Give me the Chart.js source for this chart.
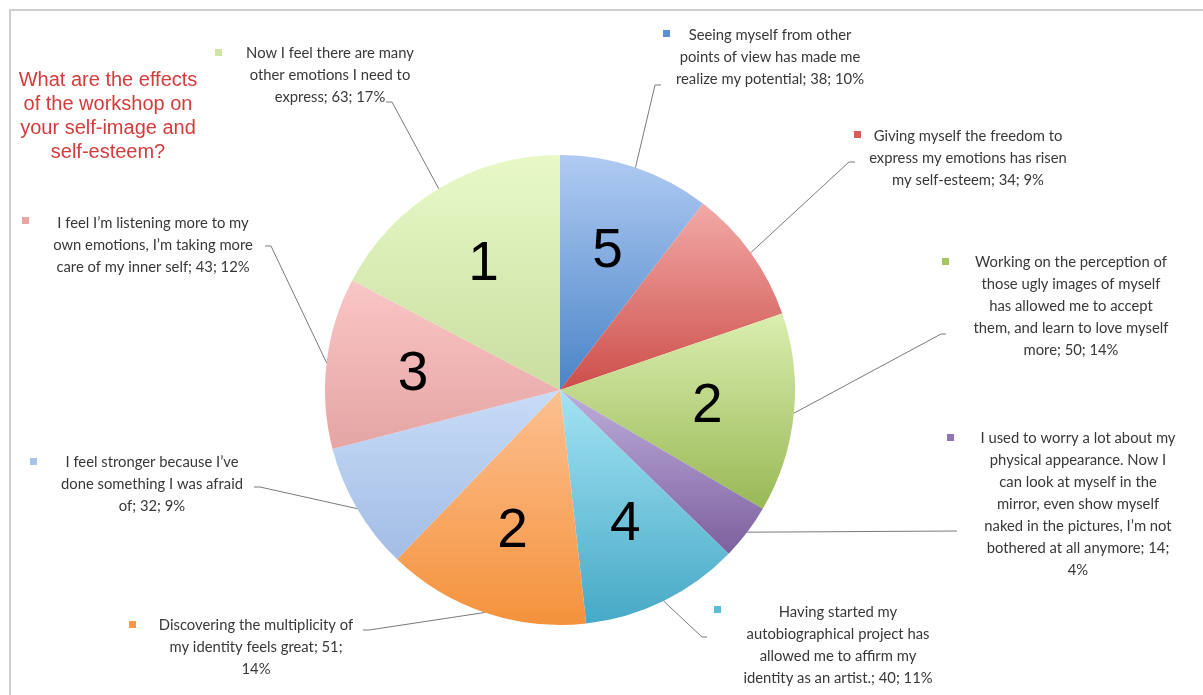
<!DOCTYPE html>
<html>
<head>
<meta charset="utf-8">
<script src="https://cdn.jsdelivr.net/npm/chart.js@4/dist/chart.umd.min.js"></script>
<style>
  html, body { margin: 0; padding: 0; background: #fff; }
  canvas { display: block; }
</style>
</head>
<body>
<canvas id="pie" width="1203" height="695"></canvas>
<script>
// slices, clockwise from 12 o'clock
const categories = [
  'Seeing myself from other points of view has made me realize my potential',
  'Giving myself the freedom to express my emotions has risen my self-esteem',
  'Working on the perception of those ugly images of myself has allowed me to accept them, and learn to love myself more',
  'I used to worry a lot about my physical appearance. Now I can look at myself in the mirror, even show myself naked in the pictures, I\u2019m not bothered at all anymore',
  'Having started my autobiographical project has allowed me to affirm my identity as an artist.',
  'Discovering the multiplicity of my identity feels great',
  'I feel stronger because I\u2019ve done something I was afraid of',
  'I feel I\u2019m listening more to my own emotions, I\u2019m taking more care of my inner self',
  'Now I feel there are many other emotions I need to express'
];
const values = [38, 34, 50, 14, 40, 51, 32, 43, 63];
const percents = [10, 9, 14, 4, 11, 14, 9, 12, 17];
const sliceTags = ['5', '', '2', '', '4', '2', '', '3', '1'];

// label text as wrapped on the picture
const labelLines = [
  ['Seeing myself from other', 'points of view has made me', 'realize my potential; 38; 10%'],
  ['Giving myself the freedom to', 'express my emotions has risen', 'my self-esteem; 34; 9%'],
  ['Working on the perception of', 'those ugly images of myself', 'has allowed me to accept', 'them, and learn to love myself', 'more; 50; 14%'],
  ['I used to worry a lot about my', 'physical appearance. Now I', 'can look at myself in the', 'mirror, even show myself', 'naked in the pictures, I\u2019m not', 'bothered at all anymore; 14;', '4%'],
  ['Having started my', 'autobiographical project has', 'allowed me to affirm my', 'identity as an artist.; 40; 11%'],
  ['Discovering the multiplicity of', 'my identity feels great; 51;', '14%'],
  ['I feel stronger because I\u2019ve', 'done something I was afraid', 'of; 32; 9%'],
  ['I feel I\u2019m listening more to my', 'own emotions, I\u2019m taking more', 'care of my inner self; 43; 12%'],
  ['Now I feel there are many', 'other emotions I need to', 'express; 63; 17%']
];
const titleLines = ['What are the effects', 'of the workshop on', 'your self-image and', 'self-esteem?'];

// [top, bottom] gradient shades per slice
const shades = [
  ['#b0cbf3', '#4a84c7'],
  ['#f2aaa7', '#cd4e4a'],
  ['#dbeeb0', '#98b955'],
  ['#bdaedb', '#7d5f9e'],
  ['#a3e3f4', '#46a9c6'],
  ['#fdc091', '#f4923c'],
  ['#c8dcf7', '#a2bce5'],
  ['#fac6c6', '#e4a5a3'],
  ['#e8f9c7', '#c9dea0']
];
const markerColors = ['#5b8fd6', '#dc5b58', '#a6c561', '#8f74b6', '#5bbcd8', '#f7984a', '#a9c4ec', '#eba5a4', '#cfe6a5'];

// label placement: text centre x, first line y, marker, leader end, short tick end
const labelPos = [
  { cx: 770, y: 35, mx: 666, my: 33, ex: 655, ey: 85, tx: 661 },
  { cx: 968, y: 136, mx: 857, my: 134, ex: 849, ey: 162, tx: 855 },
  { cx: 1071, y: 262, mx: 945, my: 261, ex: 941, ey: 334, tx: 946 },
  { cx: 1078, y: 438, mx: 950, my: 437, ex: 957, ey: 531, tx: 957 },
  { cx: 838, y: 612, mx: 717, my: 609, ex: 702, ey: 637, tx: 707 },
  { cx: 256, y: 625, mx: 132, my: 624, ex: 369, ey: 630, tx: 363 },
  { cx: 152, y: 462, mx: 33, my: 461, ex: 260, ey: 487, tx: 254 },
  { cx: 153, y: 223, mx: 25, my: 220, ex: 271, ey: 246, tx: 265 },
  { cx: 330, y: 53, mx: 218, my: 52, ex: 392, ey: 102, tx: 386 }
];

const total = values.reduce((a, b) => a + b, 0);

function sliceFill(ctx) {
  const chart = ctx.chart;
  const area = chart.chartArea;
  const i = ctx.dataIndex;
  if (!area) return shades[i][1];
  const cx = (area.left + area.right) / 2;
  const cy = (area.top + area.bottom) / 2;
  const r = Math.min(area.width, area.height) / 2;
  const before = values.slice(0, i).reduce((a, b) => a + b, 0);
  const a0 = before / total * Math.PI * 2;
  const a1 = (before + values[i]) / total * Math.PI * 2;
  const ys = [cy, cy - r * Math.cos(a0), cy - r * Math.cos(a1)];
  if (a0 <= 0.0001 || a1 >= Math.PI * 2 - 0.0001) ys.push(cy - r);
  if (a0 <= Math.PI && a1 >= Math.PI) ys.push(cy + r);
  const g = chart.ctx.createLinearGradient(0, Math.min(...ys), 0, Math.max(...ys));
  g.addColorStop(0, shades[i][0]);
  g.addColorStop(1, shades[i][1]);
  return g;
}

const frame = {
  id: 'frame',
  beforeDraw(chart) {
    const c = chart.ctx;
    c.save();
    c.fillStyle = '#fff';
    c.fillRect(0, 0, chart.width, chart.height);
    c.strokeStyle = '#cfcfcf';
    c.lineWidth = 2;
    c.beginPath();
    c.moveTo(1203, 10);
    c.lineTo(10, 10);
    c.lineTo(10, 695);
    c.stroke();
    // title
    c.fillStyle = '#d43b3b';
    c.font = '20px "Liberation Sans", Arial, sans-serif';
    c.textAlign = 'center';
    c.textBaseline = 'middle';
    titleLines.forEach((t, k) => c.fillText(t, 108, 80 + k * 24));
    c.restore();
  }
};

const callouts = {
  id: 'callouts',
  afterDatasetsDraw(chart) {
    const c = chart.ctx;
    const arcs = chart.getDatasetMeta(0).data;
    c.save();
    arcs.forEach((arc, i) => {
      const mid = (arc.startAngle + arc.endAngle) / 2;
      const R = arc.outerRadius;
      // slice number
      if (sliceTags[i]) {
        c.fillStyle = '#000';
        c.font = '55px "Liberation Sans", Arial, sans-serif';
        c.textAlign = 'center';
        c.textBaseline = 'middle';
        c.fillText(sliceTags[i], arc.x + Math.cos(mid) * R * 0.63, arc.y + Math.sin(mid) * R * 0.63 + 2);
      }
      // leader line
      const p = labelPos[i];
      c.strokeStyle = '#7a7a7a';
      c.lineWidth = 1;
      c.beginPath();
      c.moveTo(arc.x + Math.cos(mid) * R, arc.y + Math.sin(mid) * R);
      c.lineTo(p.ex, p.ey);
      c.lineTo(p.tx, p.ey);
      c.stroke();
      // marker
      c.fillStyle = markerColors[i];
      c.fillRect(p.mx - 3, p.my - 3, 7, 7);
      // text
      c.fillStyle = '#383838';
      c.font = '14.8px Lato, "Open Sans", sans-serif';
      c.textAlign = 'center';
      c.textBaseline = 'middle';
      labelLines[i].forEach((t, k) => c.fillText(t, p.cx, p.y + k * 22));
    });
    c.restore();
  }
};

new Chart(document.getElementById('pie'), {
  type: 'pie',
  data: {
    labels: categories,
    datasets: [{
      data: values,
      backgroundColor: sliceFill,
      borderWidth: 0
    }]
  },
  options: {
    responsive: false,
    animation: false,
    devicePixelRatio: 1,
    layout: { padding: { left: 325, right: 408, top: 155, bottom: 70 } },
    plugins: { legend: { display: false }, tooltip: { enabled: false } }
  },
  plugins: [frame, callouts]
});
</script>
</body>
</html>
